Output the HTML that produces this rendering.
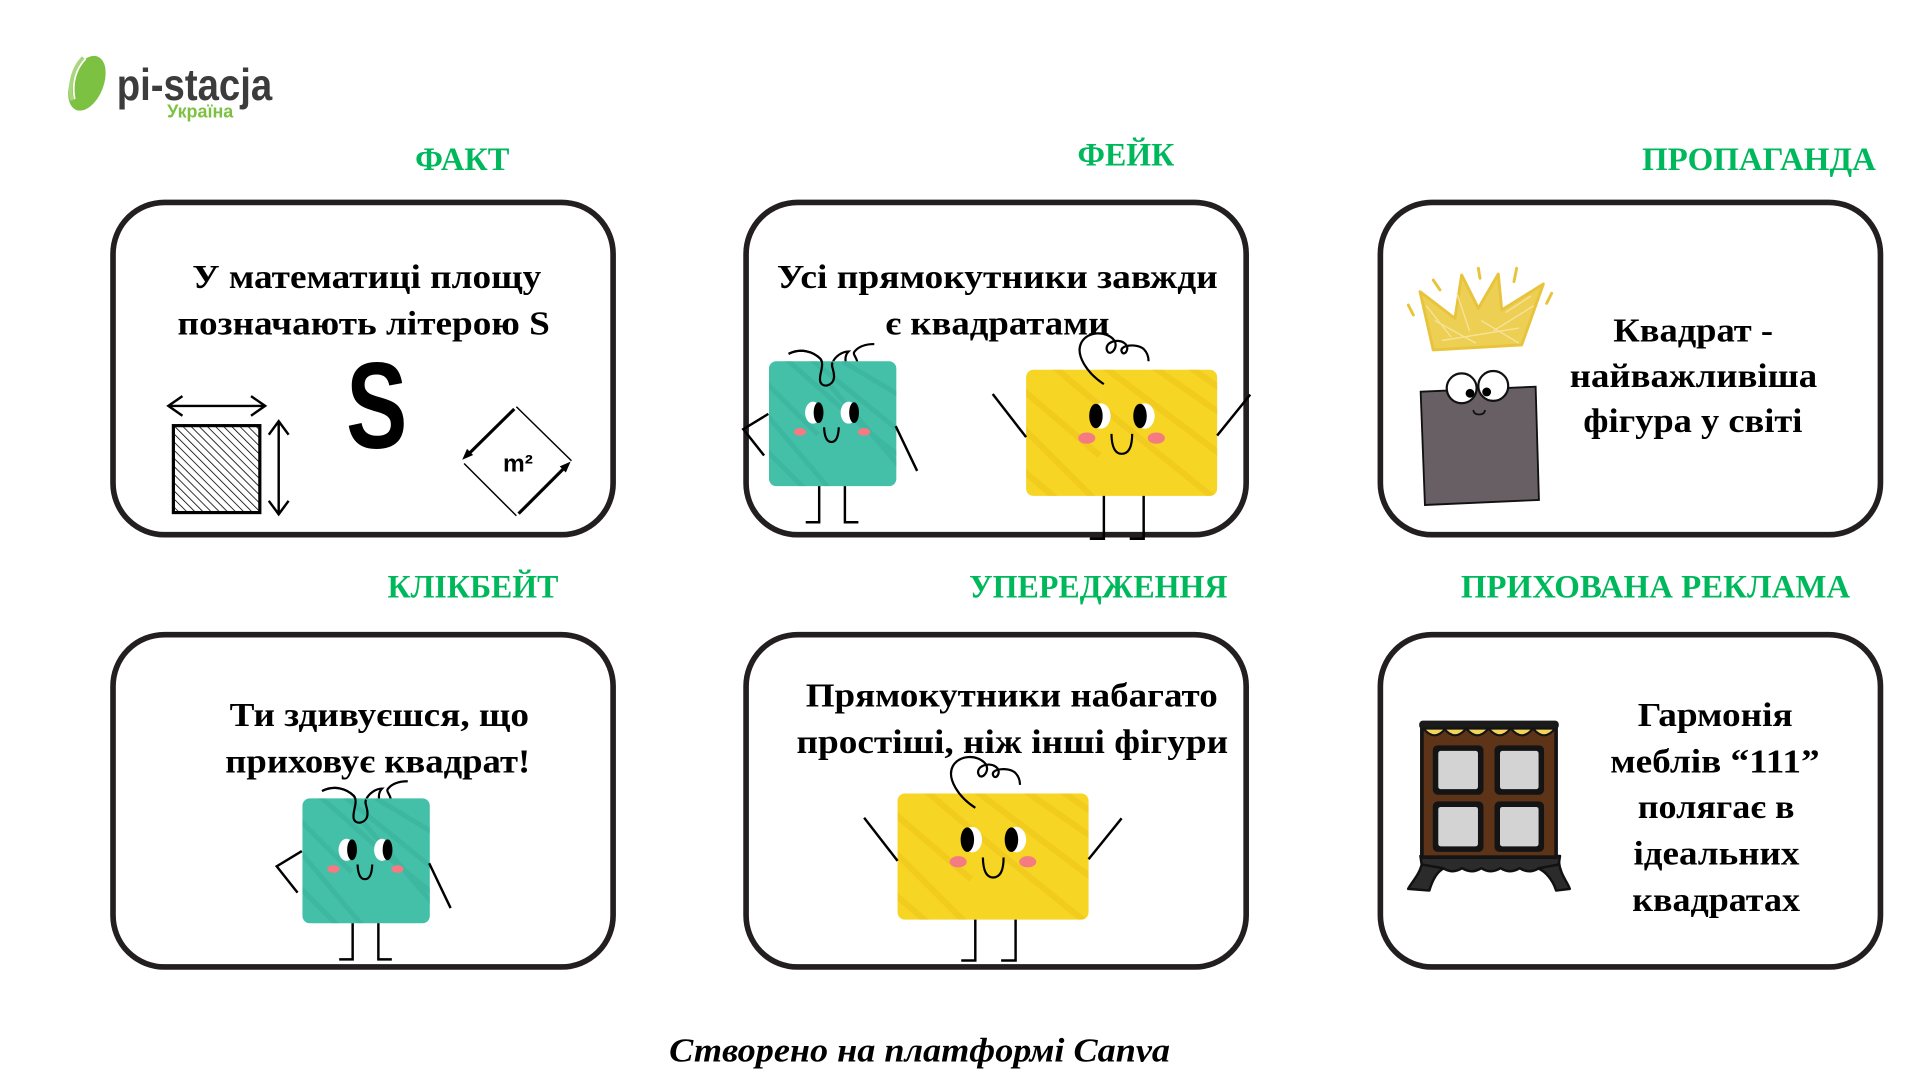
<!DOCTYPE html>
<html><head><meta charset="utf-8"><style>
html,body{margin:0;padding:0;background:#fff;width:1920px;height:1080px;overflow:hidden}
svg{display:block}
.lbl{font-family:"Liberation Serif","DejaVu Serif",serif;font-weight:bold;font-size:27px;fill:#00b85c}
.tx{font-family:"Liberation Serif","DejaVu Serif",serif;font-weight:bold;font-size:28px;fill:#000}
</style></head><body>
<svg width="1920" height="1080" viewBox="0 0 1568 882" xmlns="http://www.w3.org/2000/svg">
<defs>
<pattern id="hatch" width="4.7" height="4.7" patternUnits="userSpaceOnUse" patternTransform="rotate(-45)">
<line x1="0" y1="0" x2="0" y2="4.7" stroke="#000" stroke-width="1.3"/>
</pattern>
<clipPath id="tclip"><rect width="104" height="102" rx="6"/></clipPath>
<clipPath id="yclip"><rect width="156" height="103" rx="6"/></clipPath>
<g id="teal">
<path d="M16,-6 C26,-11 36,-8 42,-2 C46,3 40,12 42,17 C44,22 52,20 53,14 C54,8 50,4 52,1 C54,-4 60,-8 65,-8 C61,-4 62,4 66,6 C70,8 73,4 72,0 C71,-4 68,-6 70,-8 C74,-13 80,-14 86,-14" fill="none" stroke="#000" stroke-width="1.8"/>
<rect width="104" height="102" rx="6" fill="#44bfa8"/>
<g clip-path="url(#tclip)" stroke="#37ac96" stroke-width="4" opacity=".45" fill="none">
<path d="M-10,10 L40,60 M10,-5 C40,20 70,50 110,80 M30,-5 L110,60 M-5,40 L50,105 M60,0 L110,30 M-5,70 L30,105 M50,20 L110,90"/>
</g>
<path d="M16,-6 C26,-11 36,-8 42,-2 C46,3 40,12 42,17 C44,22 52,20 53,14 C54,8 50,4 52,1" fill="none" stroke="#000" stroke-width="1.8"/>
<ellipse cx="36" cy="42" rx="6.5" ry="9" fill="#fff"/>
<ellipse cx="40.5" cy="42" rx="4" ry="8.5" fill="#000"/>
<ellipse cx="65" cy="42" rx="6.5" ry="9" fill="#fff"/>
<ellipse cx="69.5" cy="42" rx="4" ry="8.5" fill="#000"/>
<ellipse cx="25.3" cy="57.7" rx="5" ry="3.2" fill="#f47b82"/>
<ellipse cx="77.6" cy="57.7" rx="5" ry="3.2" fill="#f47b82"/>
<path d="M45,54 Q45.5,66 51,66 Q56.5,66 57,54" fill="none" stroke="#000" stroke-width="1.8"/>
<polyline points="-0.5,43 -21,55.5 -4,77" fill="none" stroke="#000" stroke-width="2"/>
<line x1="103.5" y1="53" x2="121" y2="89.6" stroke="#000" stroke-width="2"/>
<path d="M41,102 V131.5 H30 M62,102 V131.5 H73" fill="none" stroke="#000" stroke-width="2"/>
</g>
<g id="yellowA">
<rect width="156" height="103" rx="6" fill="#f7d524"/>
<g clip-path="url(#yclip)" stroke="#eec21a" stroke-width="5" opacity=".5" fill="none">
<path d="M-10,10 L60,70 M20,-5 C60,30 110,70 160,110 M60,-5 L160,70 M-5,45 L60,110 M100,-5 L165,40 M-5,80 L30,110 M130,-5 L165,20"/>
</g>
<path d="M63.5,11.7 C50,3 40,-12 45,-22 C50,-32 66,-32 72,-24 C76,-18 68,-10 66,-16 C64,-22 74,-26 80,-22 C86,-18 80,-10 78,-15 C76,-20 90,-22 96,-17 C99,-14 100,-10 100,-7" fill="none" stroke="#000" stroke-width="1.8"/>
<ellipse cx="61" cy="37.7" rx="8" ry="10.4" fill="#fff"/>
<ellipse cx="57" cy="37.7" rx="5.5" ry="10" fill="#000"/>
<ellipse cx="97" cy="37.7" rx="8" ry="10.4" fill="#fff"/>
<ellipse cx="93" cy="37.7" rx="5.5" ry="10" fill="#000"/>
<ellipse cx="49.5" cy="55.8" rx="7" ry="4.6" fill="#f47b82"/>
<ellipse cx="106.3" cy="55.8" rx="7" ry="4.6" fill="#f47b82"/>
<path d="M69.7,52.3 Q70,68.6 78,68.6 Q86.6,68.6 86.6,52.3" fill="none" stroke="#000" stroke-width="1.8"/>
<line x1="0" y1="55" x2="-27.3" y2="19.8" stroke="#000" stroke-width="2"/>
<line x1="156" y1="53.7" x2="183" y2="20.3" stroke="#000" stroke-width="2"/>
</g>
</defs>

<!-- Logo -->
<ellipse cx="71" cy="68" rx="13.5" ry="23.5" transform="rotate(22 71 68)" fill="#7cc142"/>
<path d="M68,47 C60,55 56,68 58.5,82" fill="none" stroke="#a9d77e" stroke-width="3"/>
<path d="M70,48 C62,56 58.5,68 61,81" fill="none" stroke="#fff" stroke-width="1.4"/>
<text x="95.3" y="81.7" font-family="Liberation Sans Narrow, Liberation Sans, sans-serif" font-weight="bold" font-size="36" fill="#3c3c3c" textLength="127" lengthAdjust="spacingAndGlyphs">pi-stacja</text>
<text x="136.5" y="96" font-family="Liberation Sans, DejaVu Sans, sans-serif" font-weight="bold" font-size="15" fill="#7cc142" textLength="54" lengthAdjust="spacingAndGlyphs">Україна</text>

<!-- Labels -->
<text class="lbl" x="339" y="139" textLength="77" lengthAdjust="spacingAndGlyphs">ФАКТ</text>
<text class="lbl" x="880" y="135" textLength="79" lengthAdjust="spacingAndGlyphs">ФЕЙК</text>
<text class="lbl" x="1341" y="139" textLength="191" lengthAdjust="spacingAndGlyphs">ПРОПАГАНДА</text>
<text class="lbl" x="316.5" y="488" textLength="139.5" lengthAdjust="spacingAndGlyphs">КЛІКБЕЙТ</text>
<text class="lbl" x="791.5" y="488" textLength="211" lengthAdjust="spacingAndGlyphs">УПЕРЕДЖЕННЯ</text>
<text class="lbl" x="1193" y="488" textLength="318" lengthAdjust="spacingAndGlyphs">ПРИХОВАНА РЕКЛАМА</text>

<!-- Boxes -->
<g fill="none" stroke="#231f20" stroke-width="4.6">
<rect x="92.3" y="165.3" width="408.4" height="271.4" rx="42"/>
<rect x="609.3" y="165.3" width="408.4" height="271.4" rx="42"/>
<rect x="1127.3" y="165.3" width="408.4" height="271.4" rx="42"/>
<rect x="92.3" y="518.3" width="408.4" height="271.4" rx="42"/>
<rect x="609.3" y="518.3" width="408.4" height="271.4" rx="42"/>
<rect x="1127.3" y="518.3" width="408.4" height="271.4" rx="42"/>
</g>

<!-- Box texts -->
<text class="tx" x="157" y="235" textLength="285" lengthAdjust="spacingAndGlyphs">У математиці площу</text>
<text class="tx" x="145" y="273" textLength="304" lengthAdjust="spacingAndGlyphs">позначають літерою S</text>
<text class="tx" x="634.5" y="235" textLength="360" lengthAdjust="spacingAndGlyphs">Усі прямокутники завжди</text>
<text class="tx" x="723" y="273" textLength="183" lengthAdjust="spacingAndGlyphs">є квадратами</text>
<text class="tx" x="1317.5" y="279" textLength="130.5" lengthAdjust="spacingAndGlyphs">Квадрат -</text>
<text class="tx" x="1282" y="316" textLength="202" lengthAdjust="spacingAndGlyphs">найважливіша</text>
<text class="tx" x="1293" y="353" textLength="179" lengthAdjust="spacingAndGlyphs">фігура у світі</text>
<text class="tx" x="187.5" y="593" textLength="244.5" lengthAdjust="spacingAndGlyphs">Ти здивуєшся, що</text>
<text class="tx" x="184" y="631" textLength="249" lengthAdjust="spacingAndGlyphs">приховує квадрат!</text>
<text class="tx" x="658" y="577" textLength="336.5" lengthAdjust="spacingAndGlyphs">Прямокутники набагато</text>
<text class="tx" x="650.5" y="615" textLength="352.5" lengthAdjust="spacingAndGlyphs">простіші, ніж інші фігури</text>
<text class="tx" x="1337.5" y="593" textLength="126.5" lengthAdjust="spacingAndGlyphs">Гармонія</text>
<text class="tx" x="1315" y="631" textLength="171" lengthAdjust="spacingAndGlyphs">меблів “111”</text>
<text class="tx" x="1337.5" y="668" textLength="128" lengthAdjust="spacingAndGlyphs">полягає в</text>
<text class="tx" x="1334" y="706" textLength="135.5" lengthAdjust="spacingAndGlyphs">ідеальних</text>
<text class="tx" x="1333" y="744" textLength="137" lengthAdjust="spacingAndGlyphs">квадратах</text>

<!-- Box1 illustrations -->
<rect x="141.6" y="347.6" width="70.6" height="71" fill="url(#hatch)" stroke="#000" stroke-width="2.6"/>
<g fill="none" stroke="#000" stroke-width="2">
<line x1="137.5" y1="331.5" x2="216.5" y2="331.5"/>
<path d="M149,323.5 L137.5,331.5 L149,339.5 M205,323.5 L216.5,331.5 L205,339.5"/>
<line x1="227.6" y1="344" x2="227.6" y2="420"/>
<path d="M219.5,355 L227.6,344 L235.7,355 M219.5,409 L227.6,420 L235.7,409"/>
</g>
<text x="282.7" y="366" font-family="Liberation Sans, DejaVu Sans, sans-serif" font-weight="bold" font-size="100" fill="#000" textLength="50" lengthAdjust="spacingAndGlyphs">S</text>
<g stroke="#000" fill="none">
<line x1="421.7" y1="332.2" x2="466.7" y2="376.3" stroke-width="1.2"/>
<line x1="379" y1="378.5" x2="421.7" y2="421.2" stroke-width="1.2"/>
<line x1="420" y1="334" x2="382" y2="371.5" stroke-width="2.6"/>
<line x1="423.5" y1="419.5" x2="461" y2="382" stroke-width="2.6"/>
</g>
<polygon points="377.5,375.5 386.4,371.6 381.4,366.6" fill="#000"/>
<polygon points="466,377 462.1,385.9 457.1,380.9" fill="#000"/>
<text x="423" y="385" text-anchor="middle" font-family="Liberation Sans, DejaVu Sans, sans-serif" font-weight="bold" font-size="20" fill="#000">m²</text>

<!-- Characters -->
<use href="#teal" x="628" y="295"/>
<use href="#yellowA" x="838" y="302"/>
<path d="M901.5,405 V440 H890 M934,405 V440 H922.6" fill="none" stroke="#000" stroke-width="2"/>
<use href="#teal" x="247" y="652"/>
<use href="#yellowA" x="733" y="648"/>
<path d="M796.5,751 V784.4 H785 M829.4,751 V784.4 H817.6" fill="none" stroke="#000" stroke-width="2"/>

<!-- Crown -->
<g stroke="#e8c43c" stroke-linecap="round" stroke-linejoin="round">
<polygon points="1170.5,285.8 1159.7,238.2 1188.2,260 1193.7,224.6 1207.3,251.8 1223.6,223.8 1226.4,253.2 1260.4,231.9 1242.7,281.7" fill="#eccb45" fill-opacity=".92" stroke-width="2.4"/>
<path d="M1165,250 L1185,275 M1172,262 L1205,280 M1190,240 L1200,270 M1210,262 L1240,280 M1230,255 L1250,242 M1220,270 L1252,250 M1178,278 L1240,268" fill="none" stroke="#f6e39a" stroke-width="1.1"/>
<path d="M1150.1,249.1 L1154.2,257.2 M1170.5,228.7 L1176,236.8 M1207.3,219.1 L1208.7,227.3 M1238.6,219.1 L1236.4,230 M1267.2,239.5 L1263.1,247.7" fill="none" stroke-width="2.4"/>
</g>

<!-- Gray square character -->
<polygon points="1160.2,319.9 1254.1,315.8 1256.8,408.3 1163.7,412.4" fill="#675f63" stroke="#111" stroke-width="1.5"/>
<circle cx="1193.7" cy="317.1" r="12.2" fill="#fff" stroke="#111" stroke-width="1.8"/>
<circle cx="1219.5" cy="315.2" r="12.2" fill="#fff" stroke="#111" stroke-width="1.8"/>
<circle cx="1200.5" cy="321.2" r="3.6" fill="#000"/>
<circle cx="1214.1" cy="320.1" r="3.6" fill="#000"/>
<path d="M1203.2,334.8 Q1203.5,338.5 1208,338.5 Q1212.5,338.5 1212.7,334.8" fill="none" stroke="#111" stroke-width="1.4"/>

<!-- Furniture -->
<path d="M1161.7,703 C1160,714 1153,720 1150,725.9 L1167.3,727.3 C1170,718 1174,712 1178.5,709.4 Z" fill="#2b2b2b" stroke="#111" stroke-width="2" stroke-linejoin="round"/>
<path d="M1273,703 C1274,714 1280,720 1282,725.9 L1270.8,727.3 C1268,718 1262,712 1256.8,709.4 Z" fill="#2b2b2b" stroke="#111" stroke-width="2" stroke-linejoin="round"/>
<path d="M1160,699 H1274 L1273,706 L1256.8,709 Q1249,714 1241.1,709 Q1233,714 1225.4,709 Q1217,714 1209.7,709 Q1202,714 1194,709 Q1186,714 1178.5,709 L1161,706 Z" fill="#2b2b2b" stroke="#111" stroke-width="2" stroke-linejoin="round"/>
<rect x="1161.2" y="595" width="109.6" height="105" fill="#5e3419" stroke="#141414" stroke-width="3"/>
<rect x="1159" y="588.5" width="114" height="7" rx="3" fill="#1a1a1a"/>
<g fill="#f3d55b" stroke="#141414" stroke-width="1.8">
<path d="M1162.5,595 Q1171.5,606 1180.5,595 Z"/>
<path d="M1179.3,595 Q1188.3,606 1197.3,595 Z"/>
<path d="M1197.5,595 Q1206.5,606 1215.5,595 Z"/>
<path d="M1215.7,595 Q1224.7,606 1233.7,595 Z"/>
<path d="M1233.9,595 Q1242.9,606 1251.9,595 Z"/>
<path d="M1252,595 Q1261,606 1270,595 Z"/>
</g>
<g fill="#141414">
<rect x="1170.1" y="608.7" width="41.4" height="40.3" rx="4"/>
<rect x="1220.5" y="608.7" width="40.5" height="40.3" rx="4"/>
<rect x="1170.1" y="654.5" width="41.4" height="41.2" rx="4"/>
<rect x="1220.5" y="654.5" width="40.5" height="41.2" rx="4"/>
</g>
<g fill="#d3d3d3">
<rect x="1174.6" y="613.2" width="32.4" height="31.3" rx="2"/>
<rect x="1225" y="613.2" width="31.5" height="31.3" rx="2"/>
<rect x="1174.6" y="659" width="32.4" height="32.2" rx="2"/>
<rect x="1225" y="659" width="31.5" height="32.2" rx="2"/>
</g>

<!-- Footer -->
<text x="546.5" y="867" font-family="Liberation Serif, DejaVu Serif, serif" font-weight="bold" font-style="italic" font-size="28" fill="#000" textLength="409" lengthAdjust="spacingAndGlyphs">Створено на платформі Canva</text>
</svg>
</body></html>
